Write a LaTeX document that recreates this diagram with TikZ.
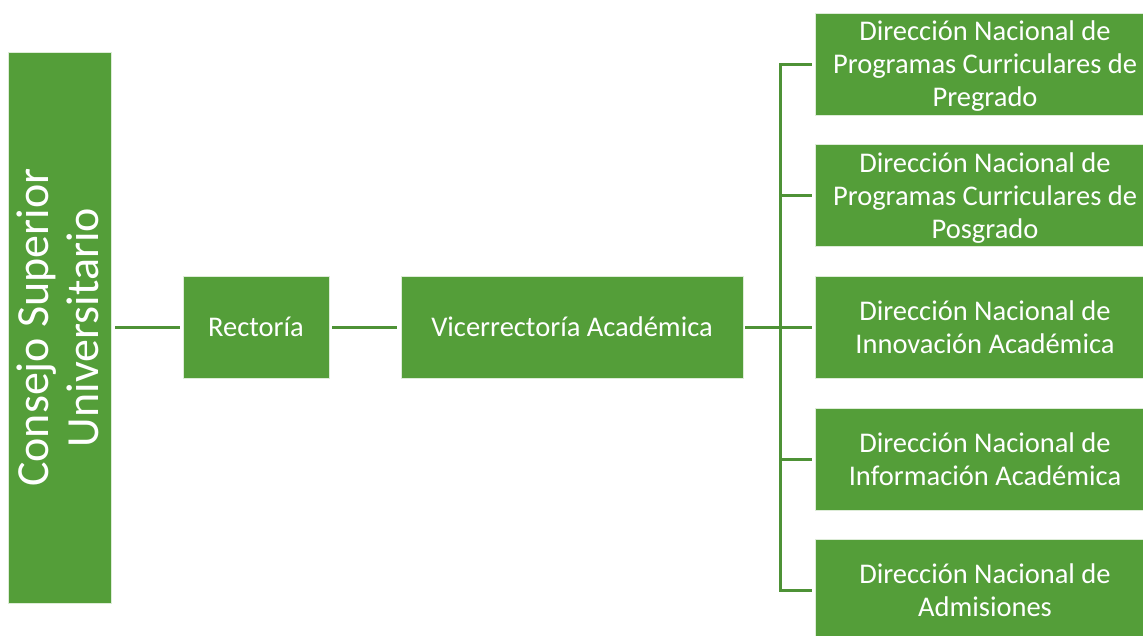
\documentclass[tikz,border=0pt]{standalone}
\usepackage{fontspec}
\setmainfont{Carlito}
\definecolor{boxgreen}{HTML}{549E39}
\definecolor{linkgreen}{HTML}{4E9236}
\begin{document}
\begin{tikzpicture}[x=1pt,y=-1pt,
  unit/.style={fill=boxgreen,draw=white!80!boxgreen,line width=0.8pt,text=white,
    align=center,inner sep=0pt,font=\fontsize{28.5}{33}\selectfont},
  link/.style={draw=linkgreen,line width=3pt}]
\useasboundingbox (0,0) rectangle (1143,635);
\clip (0,0) rectangle (1143,635);
% main chain
\node[unit,minimum width=103pt,minimum height=551pt]
  (csu) at (59.5,327.5) {\makebox[0pt][c]{\hspace*{7pt}\rotatebox{90}{\fontsize{46}{50}\selectfont
    \begin{tabular}{@{}c@{}}Consejo Superior\\Universitario\end{tabular}}}};
\node[unit,minimum width=146pt,minimum height=102pt] (rec) at (256,327) {Rectoría};
\node[unit,minimum width=342pt,minimum height=102pt] (vra) at (572,327) {Vicerrectoría Académica};
% national directorates
\begin{scope}[every node/.append style={minimum width=340pt,minimum height=102pt,text depth=-1.5pt}]
\node[unit] (d1) at (985,64)
  {Dirección Nacional de\\Programas Curriculares de\\Pregrado};
\node[unit] (d2) at (985,195.5)
  {Dirección Nacional de\\Programas Curriculares de\\Posgrado};
\node[unit] (d3) at (985,327)
  {Dirección Nacional de\\Innovación Académica};
\node[unit] (d4) at (985,459)
  {Dirección Nacional de\\Información Académica};
\node[unit] (d5) at (985,590)
  {Dirección Nacional de\\Admisiones};
\end{scope}
\coordinate (bus) at (780,327);
% connectors
\draw[link] ([xshift=4pt]csu.east |- rec.west) -- ([xshift=-3pt]rec.west);
\draw[link] ([xshift=3pt]rec.east) -- ([xshift=-4pt]vra.west);
\draw[link] ([xshift=2pt]vra.east) -- (bus);
\draw[link] ([xshift=-3pt]d1.west) -- (d1.west -| bus) -- (d5.west -| bus) -- ([xshift=-3pt]d5.west);
\foreach \d in {d2,d3,d4}
  \draw[link] (\d.west -| bus) -- ([xshift=-3pt]\d.west);
\end{tikzpicture}
\end{document}
